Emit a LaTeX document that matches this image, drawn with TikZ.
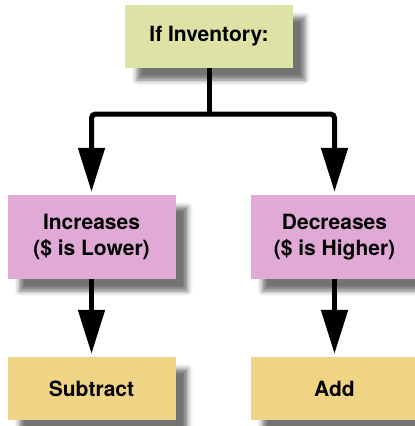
\documentclass[tikz,border=0pt]{standalone}
\usepackage{fontspec}
\setmainfont{TeX Gyre Heros}
\usetikzlibrary{arrows.meta,shadows.blur}
\definecolor{boxgreen}{RGB}{220,227,164}
\definecolor{boxpink}{RGB}{225,169,214}
\definecolor{boxyellow}{RGB}{240,212,133}
\tikzset{
  box/.style={inner sep=0pt, minimum width=168pt, align=center,
    font=\fontsize{21}{25.5}\selectfont\bfseries,
    blur shadow={shadow xshift=12pt, shadow yshift=-12pt, shadow blur radius=5pt, shadow opacity=55}},
  conn/.style={line width=5pt, rounded corners=4pt, shorten >=3pt,
    -{Triangle[length=44pt,width=26pt]}},
  stem/.style={line width=5pt}
}
\begin{document}
\begin{tikzpicture}[x=1pt,y=-1pt]
\useasboundingbox (0,0) rectangle (415,426);
\begin{scope}
\clip (0,0) rectangle (415,426);
\node[box, fill=boxgreen, minimum height=63pt] (top) at (209,36.5) {If Inventory:};
\node[box, fill=boxpink, minimum height=84pt] (inc) at (91.5,237) {Increases\\(\$ is Lower)};
\node[box, fill=boxpink, minimum height=84pt] (dec) at (334.5,237) {Decreases\\(\$ is Higher)};
\node[box, fill=boxyellow, minimum height=63pt] (sub) at (91.5,388.5) {Subtract};
\node[box, fill=boxyellow, minimum height=63pt] (add) at (334.5,388.5) {Add};
\coordinate (split) at (209,114);
\draw[stem] (top.south) -- ([yshift=2.5pt]split);
\draw[conn] (split) -| (inc.north);
\draw[conn] (split) -| (dec.north);
\draw[conn] (inc.south) -- (sub.north);
\draw[conn] (dec.south) -- (add.north);
\end{scope}
\end{tikzpicture}
\end{document}
